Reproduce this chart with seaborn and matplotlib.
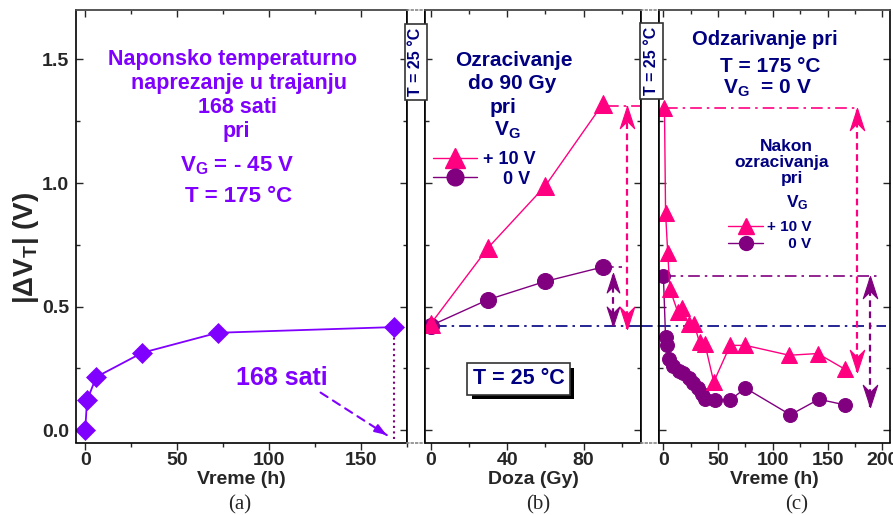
import matplotlib
matplotlib.use("Agg")
import matplotlib.pyplot as plt
import seaborn as sns
import numpy as np
from matplotlib.lines import Line2D
from matplotlib.path import Path
from matplotlib.ticker import MultipleLocator, FormatStrFormatter
import matplotlib.patheffects as pe

# ---------------- data ----------------
a_time = [0, 1, 6, 31, 72, 168]
a_dvt = [0.0, 0.12, 0.215, 0.313, 0.394, 0.417]

b_dose = [0, 30, 60, 90]
b_plus10 = [0.43, 0.738, 0.989, 1.32]
b_zero = [0.423, 0.528, 0.602, 0.66]

c_time_plus10 = [1, 2, 4, 6, 13, 17, 23, 28, 33, 38, 46, 61, 75, 115, 141, 166]
c_plus10 = [1.305, 0.88, 0.715, 0.57, 0.48, 0.495, 0.43, 0.43, 0.355, 0.348,
            0.195, 0.343, 0.343, 0.303, 0.31, 0.246]
c_time_zero = [0, 2, 3, 5, 9, 14, 18, 23, 27, 32, 35, 38, 47, 61, 75, 116, 142, 166]
c_zero = [0.625, 0.375, 0.345, 0.286, 0.26, 0.238, 0.23, 0.21, 0.192, 0.17,
          0.148, 0.125, 0.123, 0.122, 0.17, 0.062, 0.125, 0.102]

ref_level = 0.42          # blue dash-dot reference
# double arrows: (x, y_bottom, y_top)
b_arrow_pink = (102.5, 0.41, 1.31)
b_arrow_purple = (95.5, 0.42, 0.637)
c_arrow_pink = (177, 0.235, 1.305)
c_arrow_purple = (189, 0.093, 0.622)

VIOLET = '#8000FF'
PINK = '#FF0080'
PURPLE = '#800080'
NAVY = '#000080'

sns.set_style('ticks')
plt.rcParams['font.family'] = ['Liberation Sans', 'DejaVu Sans']
plt.rcParams['font.weight'] = 'bold'
plt.rcParams['axes.labelweight'] = 'bold'
plt.rcParams['mathtext.default'] = 'regular'
plt.rcParams['axes.linewidth'] = 1.2

W, H = 893, 515
fig = plt.figure(figsize=(W / 100, H / 100), dpi=100)


def rect(x0, x1, y0=10, y1=442.5):
    return [x0 / W, 1 - y1 / H, (x1 - x0) / W, (y1 - y0) / H]


def ftxt(x, y, s, **kw):
    return fig.text(x / W, 1 - y / H, s, **kw)


ax_a = fig.add_axes(rect(76, 407))
st1 = fig.add_axes(rect(407, 425))
ax_b = fig.add_axes(rect(425, 641))
st2 = fig.add_axes(rect(641, 659))
ax_c = fig.add_axes(rect(659, 890))

YLIM = (-0.05, 1.7)


def style_axis(ax, xlim, major, minor, ylabels):
    ax.set_xlim(*xlim)
    ax.set_ylim(*YLIM)
    ax.xaxis.set_major_locator(MultipleLocator(major))
    ax.xaxis.set_minor_locator(MultipleLocator(minor))
    ax.yaxis.set_major_locator(MultipleLocator(0.5))
    ax.yaxis.set_minor_locator(MultipleLocator(0.25))
    ax.yaxis.set_major_formatter(FormatStrFormatter('%.1f'))
    ax.tick_params(axis='x', which='both', direction='out', top=False,
                   labelsize=14, pad=1.5, width=1)
    ax.tick_params(axis='x', which='major', length=5)
    ax.tick_params(axis='x', which='minor', length=3)
    ax.tick_params(axis='y', which='both', direction='in', left=True,
                   right=True, labelleft=ylabels, labelsize=14, pad=5, width=1)
    ax.tick_params(axis='y', which='major', length=5)
    ax.tick_params(axis='y', which='minor', length=3)
    ax.spines['top'].set_color('#555555')
    for s in ['left', 'right', 'bottom']:
        ax.spines[s].set_color('black')
    sec = ax.secondary_xaxis('top')
    sec.xaxis.set_major_locator(MultipleLocator(major))
    sec.xaxis.set_minor_locator(MultipleLocator(minor))
    sec.tick_params(axis='x', which='both', direction='in', labeltop=False,
                    width=1)
    sec.tick_params(axis='x', which='major', length=5)
    sec.tick_params(axis='x', which='minor', length=3)
    sec.spines['top'].set_color('#555555')


style_axis(ax_a, (-5, 175), 50, 25, True)
style_axis(ax_b, (-3, 110), 40, 20, False)
style_axis(ax_c, (-4, 207), 50, 25, False)

for st in (st1, st2):
    st.set_xlim(0, 1)
    st.set_ylim(*YLIM)
    st.set_xticks([])
    st.set_yticks([])
    st.set_facecolor('white')
    for s in ('top', 'bottom'):
        st.spines[s].set_color('#888888')
        st.spines[s].set_linestyle(':')
    for s in ('left', 'right'):
        st.spines[s].set_color('black')

# ---------------- arrowhead markers ----------------
head_up = Path([(0, 0), (-0.65, -2), (0, -1.35), (0.65, -2), (0, 0)],
               [Path.MOVETO, Path.LINETO, Path.LINETO, Path.LINETO, Path.CLOSEPOLY])
head_down = Path([(0, 0), (-0.65, 2), (0, 1.35), (0.65, 2), (0, 0)],
                 [Path.MOVETO, Path.LINETO, Path.LINETO, Path.LINETO, Path.CLOSEPOLY])


def double_arrow(ax, spec, color, ms=32):
    x, y0, y1 = spec
    ax.plot([x, x], [y0, y1], ls=(0, (3, 2)), color=color, lw=1.6, zorder=2)
    ax.plot([x], [y1], marker=head_up, ms=ms, color=color, mec=color,
            mew=0.8, zorder=3)
    ax.plot([x], [y0], marker=head_down, ms=ms, color=color, mec=color,
            mew=0.8, zorder=3)


DASHDOT = (0, (7, 3, 1.5, 3))

# ---------------- panel (a) ----------------
sns.lineplot(x=a_time, y=a_dvt, ax=ax_a, color=VIOLET, lw=1.3, marker='D',
             markersize=10, markeredgecolor=VIOLET, markeredgewidth=0.5,
             estimator=None, sort=False, legend=False)
ax_a.plot([a_time[-1], a_time[-1]], [a_dvt[-1] - 0.02, YLIM[0]], ls=':',
          color=PURPLE, lw=1.5, zorder=1)
ax_a.annotate('', xy=(164, -0.02), xytext=(128, 0.152),
              arrowprops=dict(arrowstyle='-', ls=(0, (4, 3)), color=VIOLET,
                              lw=1.5, shrinkA=0, shrinkB=0))
ax_a.annotate('', xy=(164, -0.02), xytext=(159, 0.004),
              arrowprops=dict(arrowstyle='-|>,head_length=0.7,head_width=0.25',
                              color=VIOLET, lw=1.5, shrinkA=0, shrinkB=0))
ax_a.set_xlabel('Vreme (h)', fontsize=14, labelpad=2)
ax_a.set_ylabel('')

# ---------------- panel (b) ----------------
ax_b.axhline(ref_level, xmin=(2 + 3) / 113, xmax=1, ls=DASHDOT, color=NAVY,
             lw=1.2, zorder=1)
ax_b.plot([92, 110], [b_plus10[-1] - 0.01] * 2, ls=DASHDOT, color=PINK, lw=1.2)
ax_b.plot([92, 100], [b_zero[-1]] * 2, ls=(0, (4, 3)), color=PURPLE, lw=1.2)
sns.lineplot(x=b_dose, y=b_zero, ax=ax_b, color=PURPLE, lw=1, marker='o',
             markersize=11.5, markeredgecolor=PURPLE, estimator=None,
             sort=False, legend=False)
sns.lineplot(x=b_dose, y=b_plus10, ax=ax_b, color=PINK, lw=1, marker='^',
             markersize=13, markeredgecolor=PINK, estimator=None,
             sort=False, legend=False)
double_arrow(ax_b, b_arrow_pink, PINK)
double_arrow(ax_b, b_arrow_purple, PURPLE, ms=28)
ax_b.set_xlabel('Doza (Gy)', fontsize=14, labelpad=2)
ax_b.set_ylabel('')

hb = [Line2D([], [], color=PINK, lw=1, marker='^', ms=14, mec=PINK),
      Line2D([], [], color=PURPLE, lw=1, marker='o', ms=12, mec=PURPLE)]
leg_b = ax_b.legend(hb, ['+ 10 V', '    0 V'], loc='upper left',
                    bbox_to_anchor=(433 / W, 1 - 151 / H),
                    bbox_transform=fig.transFigure, frameon=False,
                    fontsize=13, handlelength=2.45, handletextpad=0.33,
                    borderpad=0, borderaxespad=0, labelspacing=0.15)
for t in leg_b.get_texts():
    t.set_color(NAVY)

# ---------------- panel (c) ----------------
ax_c.axhline(ref_level, xmin=0, xmax=(203 + 4) / 211, ls=DASHDOT, color=NAVY,
             lw=1.2, zorder=1)
st2.axhline(ref_level, ls=DASHDOT, color=NAVY, lw=1.2)
ax_c.plot([2, 177], [1.305] * 2, ls=DASHDOT, color=PINK, lw=1.2, zorder=1)
ax_c.plot([1, 197], [c_zero[0]] * 2, ls=DASHDOT, color=PURPLE, lw=1.2, zorder=1)
sns.lineplot(x=c_time_zero, y=c_zero, ax=ax_c, color=PURPLE, lw=1, marker='o',
             markersize=10, markeredgecolor=PURPLE, estimator=None,
             sort=False, legend=False)
sns.lineplot(x=c_time_plus10, y=c_plus10, ax=ax_c, color=PINK, lw=1,
             marker='^', markersize=12, markeredgecolor=PINK, estimator=None,
             sort=False, legend=False)
double_arrow(ax_c, c_arrow_pink, PINK)
double_arrow(ax_c, c_arrow_purple, PURPLE)
ax_c.set_xlabel('Vreme (h)', fontsize=14, labelpad=2)
ax_c.set_ylabel('')

hc = [Line2D([], [], color=PINK, lw=1, marker='^', ms=12, mec=PINK),
      Line2D([], [], color=PURPLE, lw=1, marker='o', ms=10, mec=PURPLE)]
leg_c = ax_c.legend(hc, ['+ 10 V', '     0 V'], loc='upper left',
                    bbox_to_anchor=(728 / W, 1 - 220 / H),
                    bbox_transform=fig.transFigure, frameon=False,
                    fontsize=11, handlelength=2.3, handletextpad=0.25,
                    borderpad=0, borderaxespad=0, labelspacing=0.2)
for t in leg_c.get_texts():
    t.set_color(NAVY)

# ---------------- texts ----------------
ftxt(26, 248, '|ΔV$_T$| (V)', rotation=90, ha='center', va='center',
     fontsize=20)

for lbl, x in (('(a)', 240), ('(b)', 538), ('(c)', 797)):
    ftxt(x, 505, lbl, ha='center', va='center', fontsize=15,
         family=['Liberation Serif', 'DejaVu Serif'], weight='normal')

kw_a = dict(ha='center', va='baseline', color=VIOLET)
ftxt(232, 65, 'Naponsko temperaturno', fontsize=15.5, **kw_a)
ftxt(239, 89.5, 'naprezanje u trajanju', fontsize=15.5, **kw_a)
ftxt(237, 113, '168 sati', fontsize=15.5, **kw_a)
ftxt(236, 136.5, 'pri', fontsize=15.5, **kw_a)
ftxt(237, 171.5, 'V$_G$ = - 45 V', fontsize=16, **kw_a)
ftxt(239, 201.5, 'T = 175 °C', fontsize=16, **kw_a)
ftxt(281.7, 385, '168 sati', fontsize=18, **kw_a)

kw_n = dict(ha='center', va='baseline', color=NAVY)
ftxt(514, 65.7, 'Ozracivanje', fontsize=15, **kw_n)
ftxt(512.5, 89.3, 'do 90 Gy', fontsize=15, **kw_n)
ftxt(503, 112.7, 'pri', fontsize=15, **kw_n)
ftxt(507, 136, 'V$_G$', fontsize=15, **kw_n)

ftxt(765, 45, 'Odzarivanje pri', fontsize=14.5, **kw_n)
ftxt(770, 71.7, 'T = 175 °C', fontsize=15, **kw_n)
ftxt(767.5, 93.3, 'V$_G$  = 0 V', fontsize=15, **kw_n)
ftxt(786.7, 150.7, 'Nakon', fontsize=12.5, **kw_n)
ftxt(781.7, 167, 'ozracivanja', fontsize=12.5, **kw_n)
ftxt(792.5, 182.7, 'pri', fontsize=12.5, **kw_n)
ftxt(797.5, 207, 'V$_G$', fontsize=12.5, **kw_n)

box = dict(boxstyle='square,pad=0.22', fc='white', ec='#333333', lw=1.2)
ftxt(416, 62, 'T = 25 °C', rotation=90, ha='center', va='center',
     color=NAVY, fontsize=11.5, bbox=box, zorder=10)
ftxt(651.5, 61, 'T = 25 °C', rotation=90, ha='center', va='center',
     color=NAVY, fontsize=11.5, bbox=box, zorder=10)

tb = ftxt(518.5, 379, 'T = 25 °C', ha='center', va='center', color=NAVY,
          fontsize=15.5,
          bbox=dict(boxstyle='square,pad=0.25', fc='white', ec='#333333',
                    lw=1.2))
tb.get_bbox_patch().set_path_effects(
    [pe.SimplePatchShadow(offset=(3.2, -3.2), shadow_rgbFace='black', alpha=1.0),
     pe.Normal()])

fig.savefig('out.png', dpi=100)
